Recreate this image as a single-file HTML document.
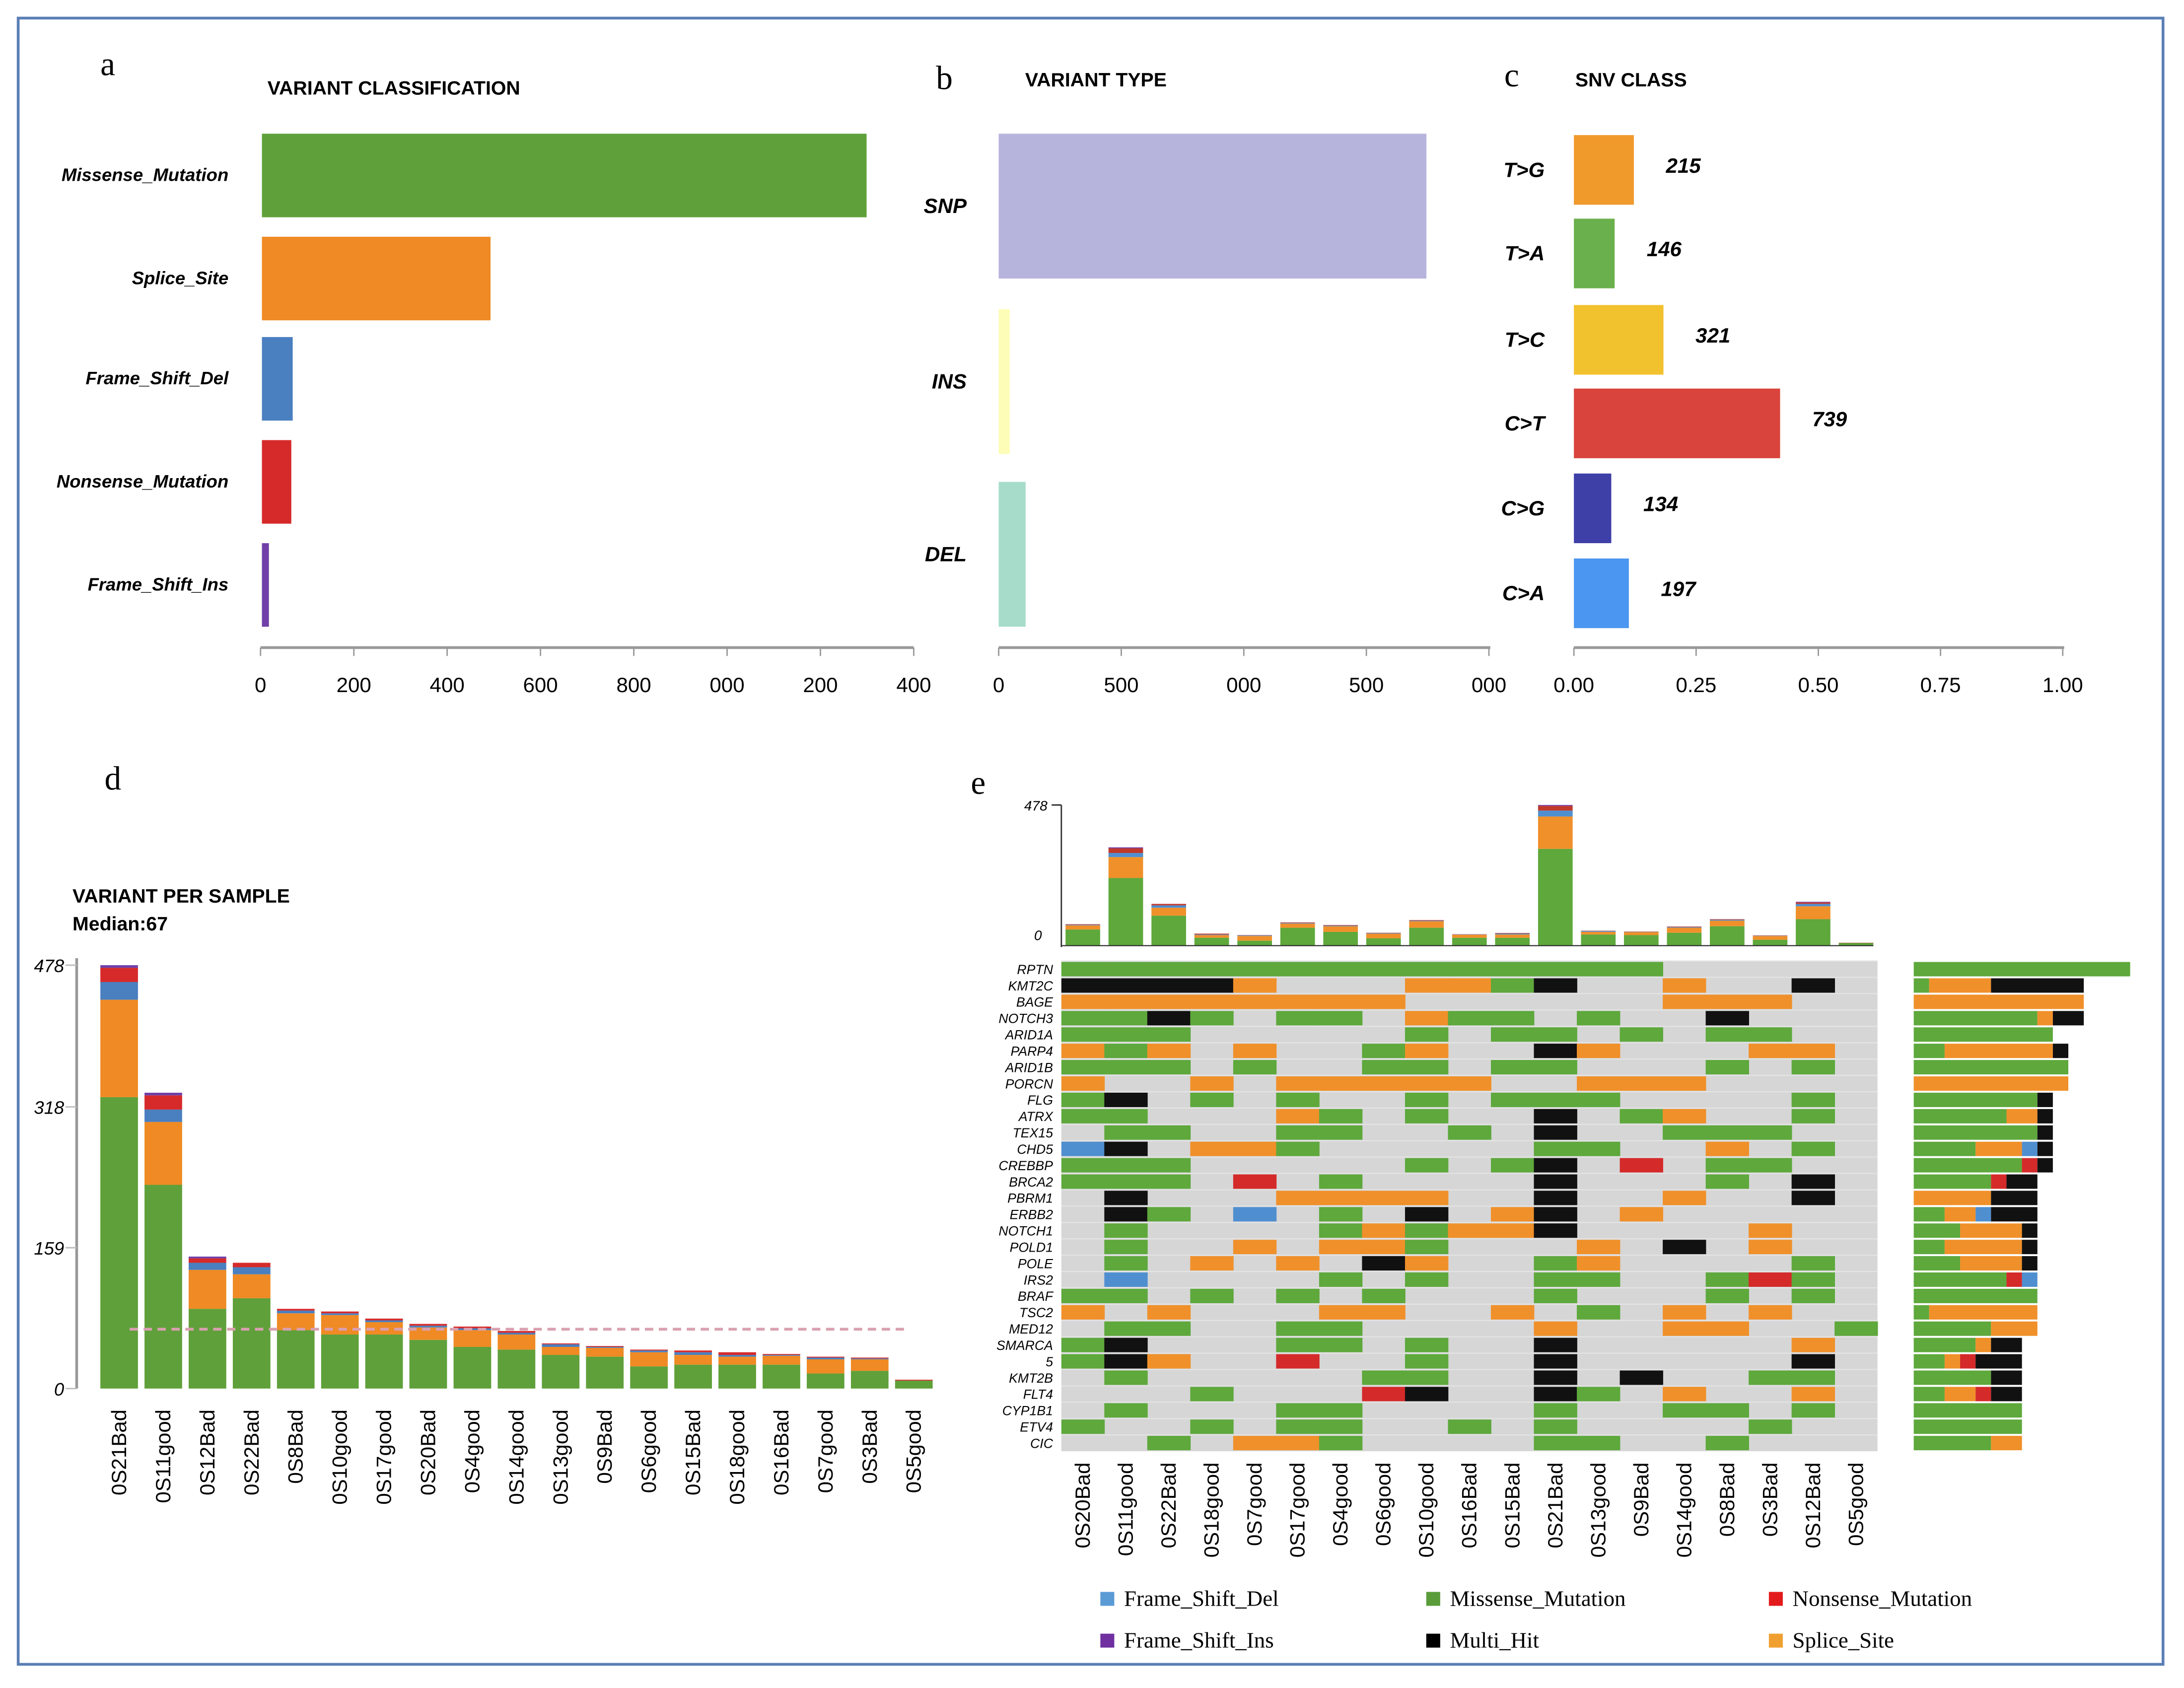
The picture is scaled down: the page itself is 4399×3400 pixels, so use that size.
<!DOCTYPE html>
<html><head><meta charset="utf-8"><style>
html,body{margin:0;padding:0;background:#fff}
svg{display:block}
text{font-family:"Liberation Sans",sans-serif}
.ser{font-family:"Liberation Serif",serif}
</style></head><body>
<svg id="fig" xmlns="http://www.w3.org/2000/svg" width="4399" height="3400" viewBox="0 0 1568 1212">
<rect x="13" y="13" width="1540" height="1182" fill="#fff" stroke="#5b7fb5" stroke-width="2"/>
<text class="ser" x="72" y="54" font-size="24">a</text>
<text x="192" y="68" font-size="14" font-weight="bold">VARIANT CLASSIFICATION</text>
<text class="ser" x="672" y="64" font-size="24">b</text>
<text x="736" y="62" font-size="14" font-weight="bold">VARIANT TYPE</text>
<text class="ser" x="1080" y="62" font-size="24">c</text>
<text x="1131" y="62" font-size="14" font-weight="bold">SNV CLASS</text>
<text class="ser" x="75" y="567" font-size="24">d</text>
<text x="52" y="648" font-size="14" font-weight="bold">VARIANT PER SAMPLE</text>
<text x="52" y="668" font-size="14" font-weight="bold">Median:67</text>
<text class="ser" x="697" y="570" font-size="24">e</text>
<g id="g"></g>
</svg>
<script>
// ---- Panel a data
const aCats=["Missense_Mutation","Splice_Site","Frame_Shift_Del","Nonsense_Mutation","Frame_Shift_Ins"];
const aVals=[1296,490,66,63,15];
const aTicks=["0","200","400","600","800","000","200","400"];
// ---- Panel b data
const bCats=["SNP","INS","DEL"];
const bVals=[1745,45,110];
const bTicks=["0","500","000","500","000"];
// ---- Panel c data
const cCats=["T>G","T>A","T>C","C>T","C>G","C>A"];
const cVals=[215,146,321,739,134,197];
const cTicks=["0.00","0.25","0.50","0.75","1.00"];
// ---- Panel d data
const dSamples=["0S21Bad","0S11good","0S12Bad","0S22Bad","0S8Bad","0S10good","0S17good","0S20Bad","0S4good","0S14good","0S13good","0S9Bad","0S6good","0S15Bad","0S18good","0S16Bad","0S7good","0S3Bad","0S5good"];
const dMissense=[329,230,90,102,66,61,61,55,47,44,38,36,25,27,27,27,17,20,9];
const dSplice=[110,71,44,27,19,22,14,14,19,17,9,10,16,11,9,10,16,13,0];
const dFSDel=[20,14,8,8,3,2,2,2,2,2,3,1,2,3,2,1,2,1,0];
const dNonsense=[16,16,5,5,2,2,2,2,2,2,1,1,1,2,3,1,1,1,1];
const dFSIns=[3,3,2,0,0,0,0,0,0,0,0,0,0,0,0,0,0,0,0];
const dTicks=[0,159,318,478];
const dMedian=67;
// ---- Panel e data
const eSamples=["0S20Bad","0S11good","0S22Bad","0S18good","0S7good","0S17good","0S4good","0S6good","0S10good","0S16Bad","0S15Bad","0S21Bad","0S13good","0S9Bad","0S14good","0S8Bad","0S3Bad","0S12Bad","0S5good"];
const eGenes=["RPTN","KMT2C","BAGE","NOTCH3","ARID1A","PARP4","ARID1B","PORCN","FLG","ATRX","TEX15","CHD5","CREBBP","BRCA2","PBRM1","ERBB2","NOTCH1","POLD1","POLE","IRS2","BRAF","TSC2","MED12","SMARCA","5","KMT2B","FLT4","CYP1B1","ETV4","CIC"];
const eMatrix=[
"GGGGGGGGGGGGGG.....",
"KKKKO...OOGK..O..K.",
"OOOOOOOO......OOO..",
"GGKG.GG.OGG.G..K...",
"GGG.....G.GG.G.GG..",
"OGO.O..GO..KO...OO.",
"GGG.G..GG.GG...G.G.",
"O..O.OOOOO..OOO....",
"GK.G.G..G.GGG....G.",
"GG...OG.G..K.GO..G.",
".GG..GG..G.K..GGG..",
"BK.OOG.....GG..O.G.",
"GGG.....G.GK.R.GG..",
"GGG.R.G....K...G.K.",
".K...OOOO..K..O..K.",
".KG.B.G.K.OK.O.....",
".G....GOGOOK....O..",
".G..O.OOG...O.K.O..",
".G.O.O.KO..GO....G.",
".B....G.G..GG..GRG.",
"GG.G.G.G...G...G.G.",
"O.O...OO..O.G.O.O..",
".GG..GG....O..OO..G",
"GK...GG.G..K.....O.",
"GKO..R..G..K.....K.",
".G.....GG..K.K..GG.",
"...G...RK..KG.O..O.",
".G...GG....G..GG.G.",
"G..G.GG..G.G....G..",
"..G.OOG....GG..G..."];
const eTopMax=478;

const NS="http://www.w3.org/2000/svg";
const G=document.getElementById('g');
function mk(tag,attrs,parent){const e=document.createElementNS(NS,tag);for(const k in attrs)e.setAttribute(k,attrs[k]);(parent||G).appendChild(e);return e;}
function tx(s,attrs){const e=mk('text',attrs);e.textContent=s;return e;}

// ---- Panel a
(function(){
  const x0=187,pxPer=67/200,tops=[96,170,242,316,390],h=60;
  const cols=["#5fa03a","#ef8a24","#4a7fc0","#d62a2a","#7040a8"];
  const xs=v=>x0+v*pxPer;
  aVals.forEach((v,i)=>{
    const r=mk('rect',{x:x0+1,y:tops[i],width:Math.max(1,xs(v)-x0),height:h,fill:cols[i]});
    
    
    const t=tx(aCats[i],{x:164,y:tops[i]+h/2+4,'font-size':13,'font-weight':'bold','font-style':'italic','text-anchor':'end'});
    
    
  });
  const ax=mk('line',{x1:x0,y1:465,x2:656,y2:465,stroke:'#999',"stroke-width":2});
  
  
  aTicks.forEach((s,i)=>{
    const x=xs(i*200);
    const l=mk('line',{x1:x,y1:465,x2:x,y2:471,stroke:'#999'});
    
    
    const t=tx(s,{x:x,y:497,'font-size':15,'text-anchor':'middle'});
    
    
  });
})();

// ---- Panel b
(function(){
  const x0=717,pxPer=88/500,tops=[96,222,346],h=104;
  const cols=["#b6b4dc","#fdfdb8","#a7dccb"];
  const xs=v=>x0+v*pxPer;
  bVals.forEach((v,i)=>{
    const r=mk('rect',{x:x0,y:tops[i],width:xs(v)-x0,height:h,fill:cols[i]});
    
    
    const t=tx(bCats[i],{x:694,y:tops[i]+h/2+5,'font-size':15,'font-weight':'bold','font-style':'italic','text-anchor':'end'});
    
    
  });
  const ax=mk('line',{x1:x0,y1:465,x2:1070,y2:465,stroke:'#999',"stroke-width":2});
  
  
  bTicks.forEach((s,i)=>{
    const x=xs(i*500);
    const l=mk('line',{x1:x,y1:465,x2:x,y2:471,stroke:'#999'});
    
    
    const t=tx(s,{x:x,y:497,'font-size':15,'text-anchor':'middle'});
    
    
  });
})();

// ---- Panel c
(function(){
  const x0=1130,w=351,tops=[97,157,219,279,340,401],h=50;
  const cols=["#f09a2c","#6ab04c","#f2c12e","#d9443c","#3f3fa8","#4a96f0"];
  const tot=cVals.reduce((a,b)=>a+b,0);
  const xs=f=>x0+f*w;
  cVals.forEach((v,i)=>{
    const x1=xs(v/tot);
    const r=mk('rect',{x:x0,y:tops[i],width:x1-x0,height:h,fill:cols[i]});
    
    
    const t=tx(cCats[i],{x:1109,y:tops[i]+h/2+5,'font-size':15,'font-weight':'bold','font-style':'italic','text-anchor':'end'});
    
    
    const vt=tx(String(v),{x:x1+23,y:tops[i]+h/2+2,'font-size':15,'font-weight':'bold','font-style':'italic'});
    
    
  });
  const ax=mk('line',{x1:x0,y1:465,x2:1482,y2:465,stroke:'#999',"stroke-width":2});
  
  
  cTicks.forEach((s,i)=>{
    const x=xs(i*0.25);
    const l=mk('line',{x1:x,y1:465,x2:x,y2:471,stroke:'#999'});
    
    
    const t=tx(s,{x:x,y:497,'font-size':15,'text-anchor':'middle'});
    
    
  });
})();

// ---- Panel d
(function(){
  const y0=997,yTop=693,maxV=478,pitch=31.7,x0=72,bw=27;
  const ys=v=>y0-v*(y0-yTop)/maxV;
  const series=[dMissense,dSplice,dFSDel,dNonsense,dFSIns];
  const cols=["#5fa03a","#ef8a24","#4a7fc0","#d62a2a","#7040a8"];
  const names=["missense","splice","fs-del","nonsense","fs-ins"];
  const ax=mk('line',{x1:55,y1:688,x2:55,y2:y0,stroke:'#999',"stroke-width":2});
  
  
  dTicks.forEach(v=>{
    const t=tx(String(v),{x:46,y:ys(v)+5,'font-size':13,'font-style':'italic','text-anchor':'end'});
    
    
    const l=mk('line',{x1:47,y1:ys(v),x2:55,y2:ys(v),stroke:'#bbb'});
    
    
  });
  dSamples.forEach((s,i)=>{
    const x=x0+i*pitch;let acc=0;
    series.forEach((arr,k)=>{
      const v=arr[i];if(v<=0)return;
      const r=mk('rect',{x:x,y:ys(acc+v),width:bw,height:ys(acc)-ys(acc+v),fill:cols[k]});
      
      
      acc+=v;
    });
    const cx=x+bw/2+5;
    const t=tx(s,{x:cx,y:1012,'font-size':15,'text-anchor':'end',transform:`rotate(-90 ${cx} 1012)`});
    
    
  });
  const m=mk('line',{x1:93,y1:ys(dMedian),x2:652,y2:ys(dMedian),stroke:'#d9a0b0',"stroke-width":2,"stroke-dasharray":"6 4"});
  
  
})();

// ---- Panel e
(function(){
  const colMap={G:"#5ea83c",O:"#f0902a",K:"#111111",B:"#4f8fd0",R:"#d42a2a"};
  const x0=762,x1=1348,y0=690,y1=1042;
  const cw=(x1-x0)/eSamples.length, rh=(y1-y0)/eGenes.length;
  const bg=mk('rect',{x:x0,y:y0,width:x1-x0,height:y1-y0,fill:"#d6d6d6"});
  
  
  eGenes.forEach((gname,r)=>{
    const t=tx(gname,{x:756,y:y0+r*rh+rh/2+3.5,'font-size':9.5,'font-style':'italic','text-anchor':'end'});
    
    
    const row=eMatrix[r];
    for(let c=0;c<eSamples.length;c++){
      const ch=row[c];
      if(colMap[ch]){
        const cell=mk('rect',{x:x0+c*cw,y:y0+r*rh+0.7,width:cw+0.3,height:rh-1.4,fill:colMap[ch]});
        
        
      }
    }
    const sep=mk('line',{x1:x0,y1:y0+r*rh,x2:x1,y2:y0+r*rh,stroke:"#e4e4e4","stroke-width":0.8});
    
    
    const order=["G","O","R","B","K"];let acc=0;const unit=11.1;
    order.forEach(k=>{
      const n=row.split('').filter(ch=>ch===k).length;
      if(!n)return;
      const b=mk('rect',{x:1374+acc*unit,y:y0+r*rh+0.7,width:n*unit,height:rh-1.4,fill:colMap[k]});
      
      
      acc+=n;
    });
  });
  const tb=679,tt=578,ys=v=>tb-v*(tb-tt)/eTopMax;
  const ax=mk('line',{x1:762,y1:tt,x2:762,y2:tb+1,stroke:'#333',"stroke-width":1});
  
  
  const ax2=mk('line',{x1:755,y1:tt,x2:762,y2:tt,stroke:'#333'});
  
  
  const l1=tx(String(eTopMax),{x:752,y:tt+4,'font-size':10,'font-style':'italic','text-anchor':'end'});
  
  
  const l0=tx("0",{x:748,y:tb-4,'font-size':10,'font-style':'italic','text-anchor':'end'});
  
  
  const series=[dMissense,dSplice,dFSDel,dNonsense,dFSIns];
  const scol=["#5ea83c","#f0902a","#4f8fd0","#c0392b","#7030a0"];
  eSamples.forEach((s,c)=>{
    const i=dSamples.indexOf(s);let acc=0;
    const x=x0+c*cw+3;
    series.forEach((arr,k)=>{
      const v=arr[i];if(v<=0)return;
      const r=mk('rect',{x:x,y:ys(acc+v),width:cw-6,height:ys(acc)-ys(acc+v),fill:scol[k]});
      
      
      acc+=v;
    });
    const cx=x0+c*cw+cw/2+5;
    const t=tx(s,{x:cx,y:1050,'font-size':15,'text-anchor':'end',transform:`rotate(-90 ${cx} 1050)`});
    
    
  });
  const base=mk('line',{x1:762,y1:tb,x2:1345,y2:tb,stroke:'#333',"stroke-width":0.8});
  
  
})();

// ---- Legend
const legNames=["Frame_Shift_Del","Missense_Mutation","Nonsense_Mutation","Frame_Shift_Ins","Multi_Hit","Splice_Site"];
(function(){
  const cols=["#5b9bd5","#5a9c3a","#e31a1c","#7030a0","#000000","#f0a030"];
  const xs=[790,1024,1270],ys=[1153,1183];
  legNames.forEach((n,i)=>{
    const x=xs[i%3],y=ys[Math.floor(i/3)];
    const s=mk('rect',{x:x,y:y-10,width:10,height:10,fill:cols[i]});
    
    
    const t=tx(n,{x:x+17,y:y,'font-size':16,class:'ser'});
    
    
  });
})();
</script>
</body></html>
